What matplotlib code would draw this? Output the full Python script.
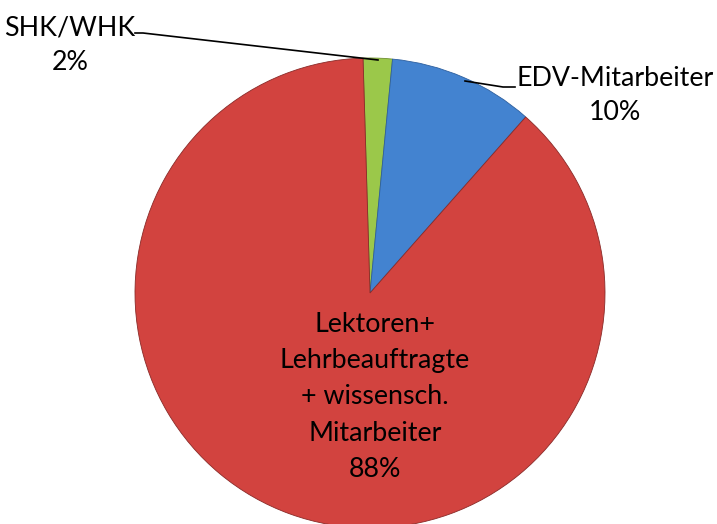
import numpy as np
import matplotlib.pyplot as plt

# data
labels = ['SHK/WHK', 'EDV-Mitarbeiter', 'Lektoren+\nLehrbeauftragte\n+ wissensch.\nMitarbeiter']
shares = [2, 10, 88]
colors = ['#9BC84A', '#4383D0', '#D2433F']

plt.rcParams['font.family'] = ['Lato', 'DejaVu Sans']

fig = plt.figure(figsize=(7.17, 5.24), dpi=100)
ax = fig.add_axes([0, 0, 1, 1])
ax.set_aspect('equal')
ax.axis('off')

cx, cy, r = 370, 524 - 293, 235
wedges, _ = ax.pie(shares, colors=colors, startangle=91.7, counterclock=False,
                   center=(cx, cy), radius=r,
                   wedgeprops=dict(edgecolor='#8a2a28', linewidth=0.6))
wedges[0].set_edgecolor('#6f8f30')
wedges[1].set_edgecolor('#2d5f9e')
ax.set_xlim(0, 717)
ax.set_ylim(0, 524)

fs = 19.3
# outer labels
ax.text(70, 524 - 28, labels[0], ha='center', va='center', fontsize=fs)
ax.text(70, 524 - 62, f'{shares[0]}%', ha='center', va='center', fontsize=fs)
ax.plot([135, 143, 378], [524 - 33, 524 - 33, 524 - 60], color='black', lw=1.2)

ax.text(615, 524 - 78, labels[1], ha='center', va='center', fontsize=fs)
ax.text(615, 524 - 113, f'{shares[1]}%', ha='center', va='center', fontsize=fs)
ax.plot([465, 503, 515], [524 - 81, 524 - 87, 524 - 87], color='black', lw=1.2)

# inner label
ax.text(375, 524 - 397, labels[2] + f'\n{shares[2]}%', ha='center', va='center',
        fontsize=fs, linespacing=1.56)

fig.savefig('out.png', dpi=100)
